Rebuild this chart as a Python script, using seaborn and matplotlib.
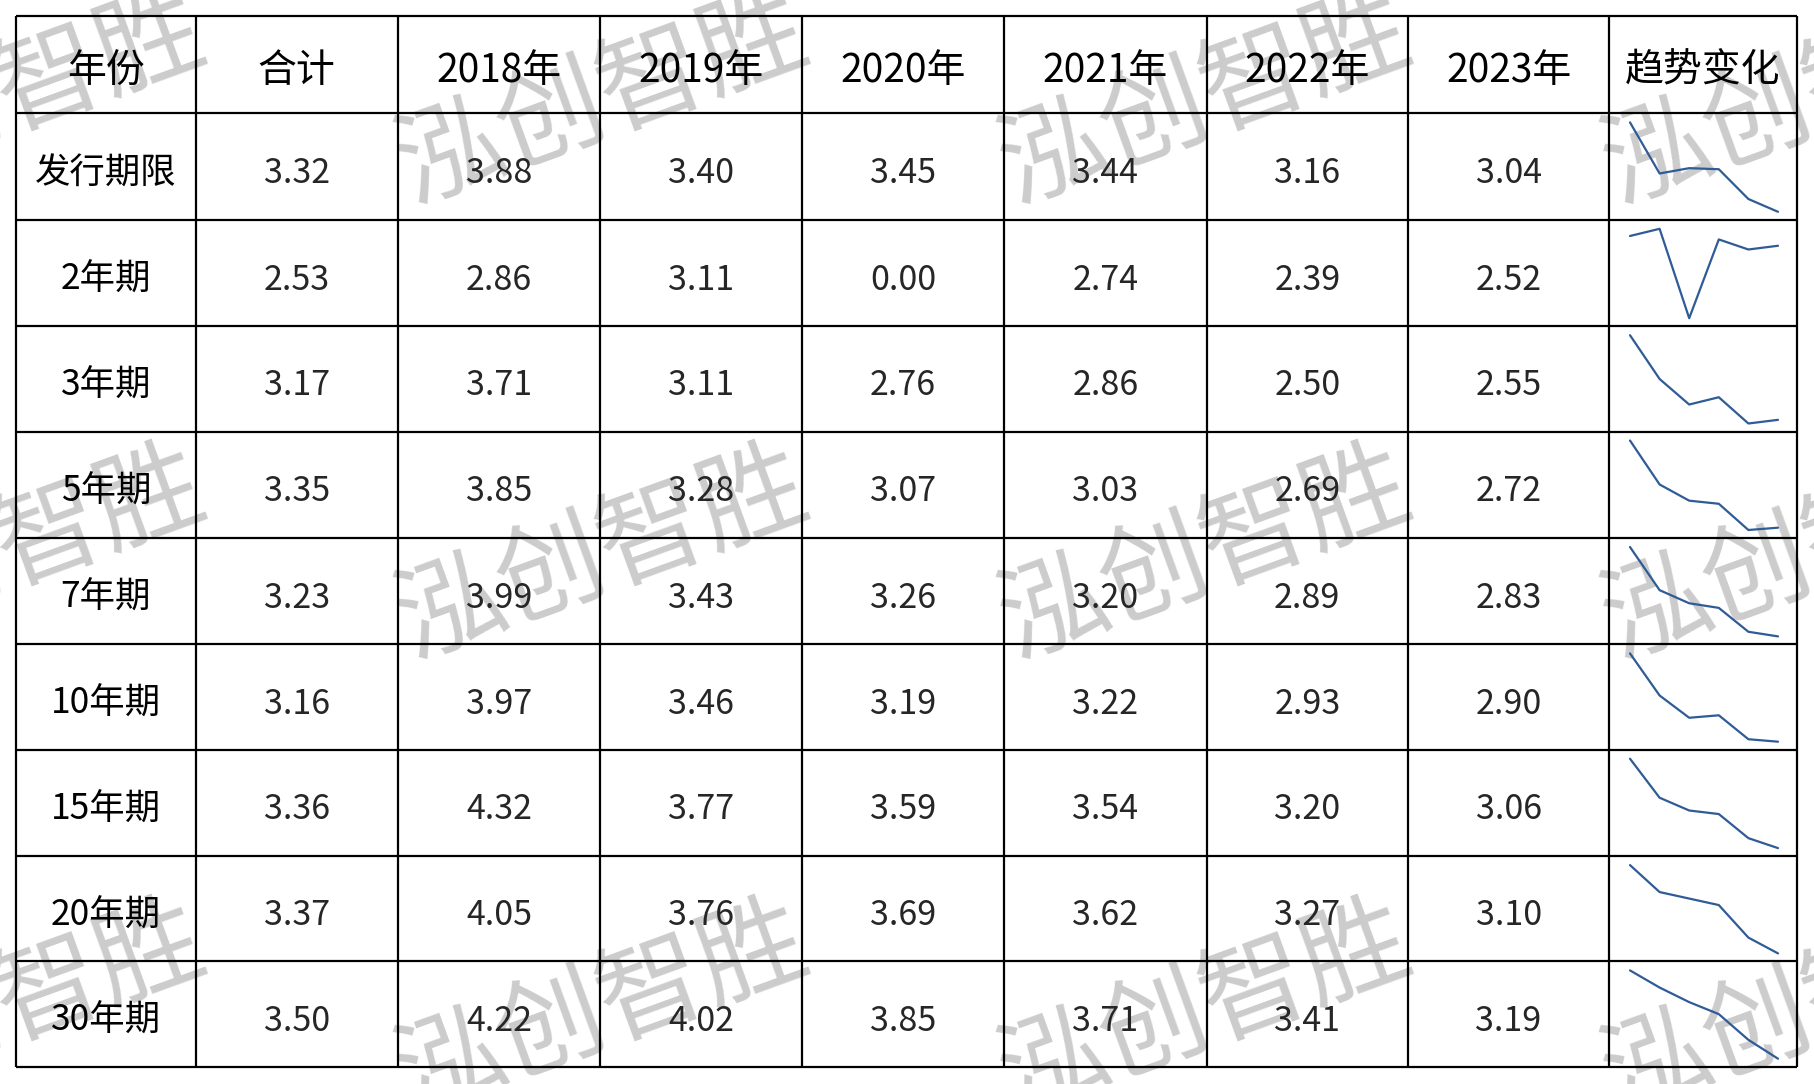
import numpy as np
import pandas as pd
import matplotlib
matplotlib.use("Agg")
import matplotlib.pyplot as plt
import seaborn as sns

# ---- data ----
header = ["年份", "合计", "2018年", "2019年", "2020年", "2021年", "2022年", "2023年", "趋势变化"]
terms = ["发行期限", "2年期", "3年期", "5年期", "7年期", "10年期", "15年期", "20年期", "30年期"]
years = [2018, 2019, 2020, 2021, 2022, 2023]
total = [3.32, 2.53, 3.17, 3.35, 3.23, 3.16, 3.36, 3.37, 3.50]
y2018 = [3.88, 2.86, 3.71, 3.85, 3.99, 3.97, 4.32, 4.05, 4.22]
y2019 = [3.40, 3.11, 3.11, 3.28, 3.43, 3.46, 3.77, 3.76, 4.02]
y2020 = [3.45, 0.00, 2.76, 3.07, 3.26, 3.19, 3.59, 3.69, 3.85]
y2021 = [3.44, 2.74, 2.86, 3.03, 3.20, 3.22, 3.54, 3.62, 3.71]
y2022 = [3.16, 2.39, 2.50, 2.69, 2.89, 2.93, 3.20, 3.27, 3.41]
y2023 = [3.04, 2.52, 2.55, 2.72, 2.83, 2.90, 3.06, 3.10, 3.19]

df = pd.DataFrame({"期限": terms, "合计": total, 2018: y2018, 2019: y2019,
                   2020: y2020, 2021: y2021, 2022: y2022, 2023: y2023})

sns.set_theme(style="white")
plt.rcParams["font.family"] = ["Noto Sans CJK SC", "DejaVu Sans"]
plt.rcParams["font.weight"] = "light"

W, H = 1814, 1084
fig = plt.figure(figsize=(W / 100, H / 100), dpi=100)
ax = fig.add_axes([0, 0, 1, 1])
ax.set_xlim(0, W)
ax.set_ylim(H, 0)
ax.axis("off")

col_edges = [16, 195.5, 398, 600.4, 801.7, 1004.2, 1206.6, 1408, 1609.2, 1796.7]
row_edges = [16, 113.4, 219.8, 326.2, 431.5, 538, 644.4, 749.7, 856.1, 961.4, 1066.7]

# watermark
for wy in [100, 555, 1010]:
    for wx in [0, 603, 1206, 1809]:
        ax.text(wx, wy, "泓创智胜", fontsize=77, color="#cccccc", rotation=20,
                fontweight="light", rotation_mode="anchor", ha="center", va="center", zorder=0)

# grid
ax.hlines(row_edges, col_edges[0], col_edges[-1], color="black", lw=1.6, zorder=3)
ax.vlines(col_edges, row_edges[0], row_edges[-1], color="black", lw=1.6, zorder=3)

def cx(i):
    return (col_edges[i] + col_edges[i + 1]) / 2

def cy(j):
    return (row_edges[j] + row_edges[j + 1]) / 2

for i, h in enumerate(header):
    ax.text(cx(i), cy(0) + 6, h, fontsize=28, ha="center", va="center", color="black", zorder=4)

for j, row in df.iterrows():
    r = j + 1
    ax.text(cx(0), cy(r) + 7, row["期限"], fontsize=25.5, ha="center", va="center", color="black", zorder=4)
    ax.text(cx(1), cy(r) + 7, f"{row['合计']:.2f}", fontsize=24.5, ha="center", va="center", zorder=4)
    for k, yr in enumerate(years):
        ax.text(cx(k + 2), cy(r) + 7, f"{row[yr]:.2f}", fontsize=24.5, ha="center", va="center", zorder=4)

    # sparkline
    x0, x1 = 1630, 1778
    top, bot = row_edges[r] + 9, row_edges[r + 1] - 8
    sax = fig.add_axes([x0 / W, 1 - bot / H, (x1 - x0) / W, (bot - top) / H])
    vals = [row[yr] for yr in years]
    sns.lineplot(x=years, y=vals, ax=sax, color="#2f5b97", lw=1.6)
    sax.set_xlim(years[0], years[-1])
    sax.set_ylim(min(vals), max(vals))
    sax.axis("off")
    sax.patch.set_alpha(0)
    for ln in sax.lines:
        ln.set_clip_on(False)

fig.savefig("out.png", dpi=100)
